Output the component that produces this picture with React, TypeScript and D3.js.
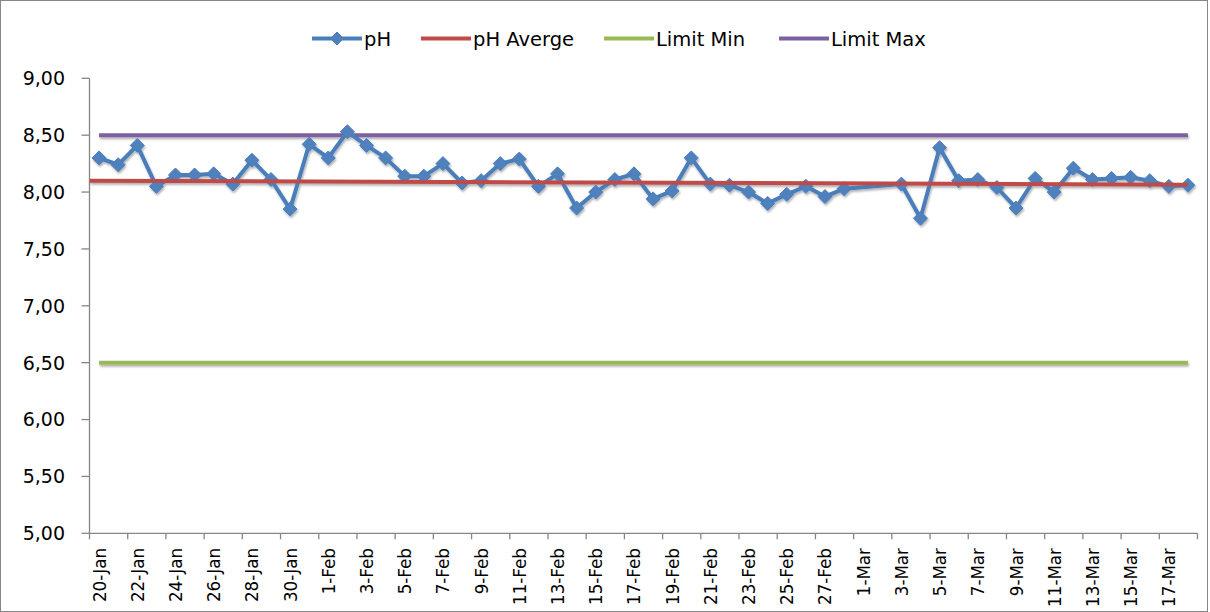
import React from 'react';
import * as d3 from 'd3';

const dates = [
  '20-Jan', '21-Jan', '22-Jan', '23-Jan', '24-Jan', '25-Jan', '26-Jan', '27-Jan', '28-Jan', '29-Jan', '30-Jan', '31-Jan',
  '1-Feb', '2-Feb', '3-Feb', '4-Feb', '5-Feb', '6-Feb', '7-Feb', '8-Feb', '9-Feb', '10-Feb',
  '11-Feb', '12-Feb', '13-Feb', '14-Feb', '15-Feb', '16-Feb', '17-Feb', '18-Feb', '19-Feb', '20-Feb',
  '21-Feb', '22-Feb', '23-Feb', '24-Feb', '25-Feb', '26-Feb', '27-Feb', '28-Feb',
  '1-Mar', '2-Mar', '3-Mar', '4-Mar', '5-Mar', '6-Mar', '7-Mar', '8-Mar', '9-Mar', '10-Mar',
  '11-Mar', '12-Mar', '13-Mar', '14-Mar', '15-Mar', '16-Mar', '17-Mar', '18-Mar',
];

const phValues: (number | null)[] = [
  8.30, 8.24, 8.41, 8.05, 8.15, 8.15, 8.16, 8.07, 8.28, 8.11, 7.85, 8.42,
  8.30, 8.53, 8.41, 8.30, 8.14, 8.14, 8.25, 8.08, 8.10, 8.25,
  8.29, 8.05, 8.16, 7.86, 8.00, 8.11, 8.16, 7.94, 8.01, 8.30,
  8.07, 8.06, 8.00, 7.90, 7.98, 8.05, 7.96, 8.03,
  null, null, 8.07, 7.77, 8.39, 8.10, 8.11, 8.04, 7.86, 8.12,
  8.00, 8.21, 8.11, 8.12, 8.13, 8.10, 8.05, 8.06,
];

// pH average trend: value at the first and last date
const phAverage = [8.10, 8.065];
const limitMin = 6.5;
const limitMax = 8.5;
const yTicks = [5, 5.5, 6, 6.5, 7, 7.5, 8, 8.5, 9];

const legendItems = [
  { name: 'pH', color: '#4A7EBB', marker: true },
  { name: 'pH Averge', color: '#BE4B48', marker: false },
  { name: 'Limit Min', color: '#98B954', marker: false },
  { name: 'Limit Max', color: '#7D60A0', marker: false },
];
const legendX = [312, 421, 604, 779];

const W = 1210;
const H = 612;
const FONT = 'DejaVu Sans, sans-serif';

export default function App() {
  const x = d3.scaleBand<string>().domain(dates).range([89.5, 1197.5]).padding(0);
  const bw = x.bandwidth();
  const cx = (d: string) => (x(d) as number) + bw / 2;
  const cxi = (i: number) => (x.range()[0] as number) + bw * (i + 0.5);
  const y = d3.scaleLinear().domain([5, 9]).range([533.3, 78.3]);
  const fmt = (v: number) => v.toFixed(2).replace('.', ',');

  const pts = dates
    .map((d, i) => ({ d, v: phValues[i] }))
    .filter((p) => p.v !== null) as { d: string; v: number }[];
  const line = d3
    .line<{ d: string; v: number }>()
    .x((p) => cx(p.d))
    .y((p) => y(p.v));

  const trend = d3.scaleLinear().domain([0, dates.length - 1]).range(phAverage);
  const avgPath = d3.line<number>()
    .x((i) => cxi(i))
    .y((i) => y(trend(i)))([-0.5, dates.length - 1]);

  const first = dates[0];
  const last = dates[dates.length - 1];
  const hline = (v: number) =>
    d3.line<string>().x((d) => cx(d)).y(() => y(v))([first, last]);

  const diamond = (s: number) => `M0,${-s}L${s},0L0,${s}L${-s},0Z`;
  const axisColor = '#868686';
  const x0 = x.range()[0];
  const x1 = x.range()[1];

  return (
    <svg width={W} height={H} style={{ position: 'absolute', left: 0, top: 0, background: '#fff' }}>
      <defs>
        <filter id="shadow" x="-5%" y="-50%" width="110%" height="200%">
          <feDropShadow dx="1" dy="2" stdDeviation="1.3" floodColor="#000" floodOpacity="0.3" />
        </filter>
      </defs>
      <rect x={0.5} y={0.5} width={W - 3} height={H - 1} fill="#fff" stroke={axisColor} strokeWidth={1} />

      {/* legend */}
      {legendItems.map((it, i) => (
        <g key={it.name} transform={`translate(${legendX[i]},38.5)`}>
          <line x1={0} x2={50} y1={0} y2={0} stroke={it.color} strokeWidth={4} />
          {it.marker && <path d={diamond(6.5)} fill="#4F81BD" stroke={it.color} strokeWidth={1} transform="translate(25,0)" />}
          <text x={52} y={0} dy="0.36em" fontFamily={FONT} fontSize={19.5} fill="#000">
            {it.name}
          </text>
        </g>
      ))}

      {/* y axis */}
      <line x1={x0} x2={x0} y1={y(9)} y2={y(5)} stroke={axisColor} strokeWidth={1.3} />
      {yTicks.map((t) => (
        <g key={t}>
          <line x1={x0 - 8} x2={x0} y1={y(t)} y2={y(t)} stroke={axisColor} strokeWidth={1.3} />
          <text x={65} y={y(t)} dy="0.36em" textAnchor="end" fontFamily={FONT} fontSize={19} fill="#000">
            {fmt(t)}
          </text>
        </g>
      ))}

      {/* x axis */}
      <line x1={x0} x2={x1} y1={y(5)} y2={y(5)} stroke={axisColor} strokeWidth={1.3} />
      {dates.map((d, i) =>
        i % 2 === 0 ? (
          <line key={'t' + d} x1={x(d) as number} x2={x(d) as number} y1={y(5)} y2={y(5) + 6} stroke={axisColor} strokeWidth={1.3} />
        ) : null
      )}
      <line x1={x1} x2={x1} y1={y(5)} y2={y(5) + 6} stroke={axisColor} strokeWidth={1.3} />
      {dates.map((d, i) =>
        i % 2 === 0 ? (
          <text
            key={'l' + d}
            transform={`translate(${cx(d)},548) rotate(-90) scale(0.93,1)`}
            dy="0.36em"
            textAnchor="end"
            fontFamily={FONT}
            fontSize={18}
            fill="#000"
          >
            {d}
          </text>
        ) : null
      )}

      {/* series */}
      <g filter="url(#shadow)">
        <path d={hline(limitMax) as string} stroke="#7D60A0" strokeWidth={4} fill="none" />
        <path d={hline(limitMin) as string} stroke="#98B954" strokeWidth={4} fill="none" />
        <path d={line(pts) as string} stroke="#4A7EBB" strokeWidth={4} fill="none" strokeLinejoin="round" />
        {pts.map((p) => (
          <path key={p.d} d={diamond(7)} transform={`translate(${cx(p.d)},${y(p.v)})`} fill="#4F81BD" stroke="#4A7EBB" strokeWidth={1} />
        ))}
        <path d={avgPath as string} stroke="#BE4B48" strokeWidth={4} fill="none" />
      </g>
    </svg>
  );
}
